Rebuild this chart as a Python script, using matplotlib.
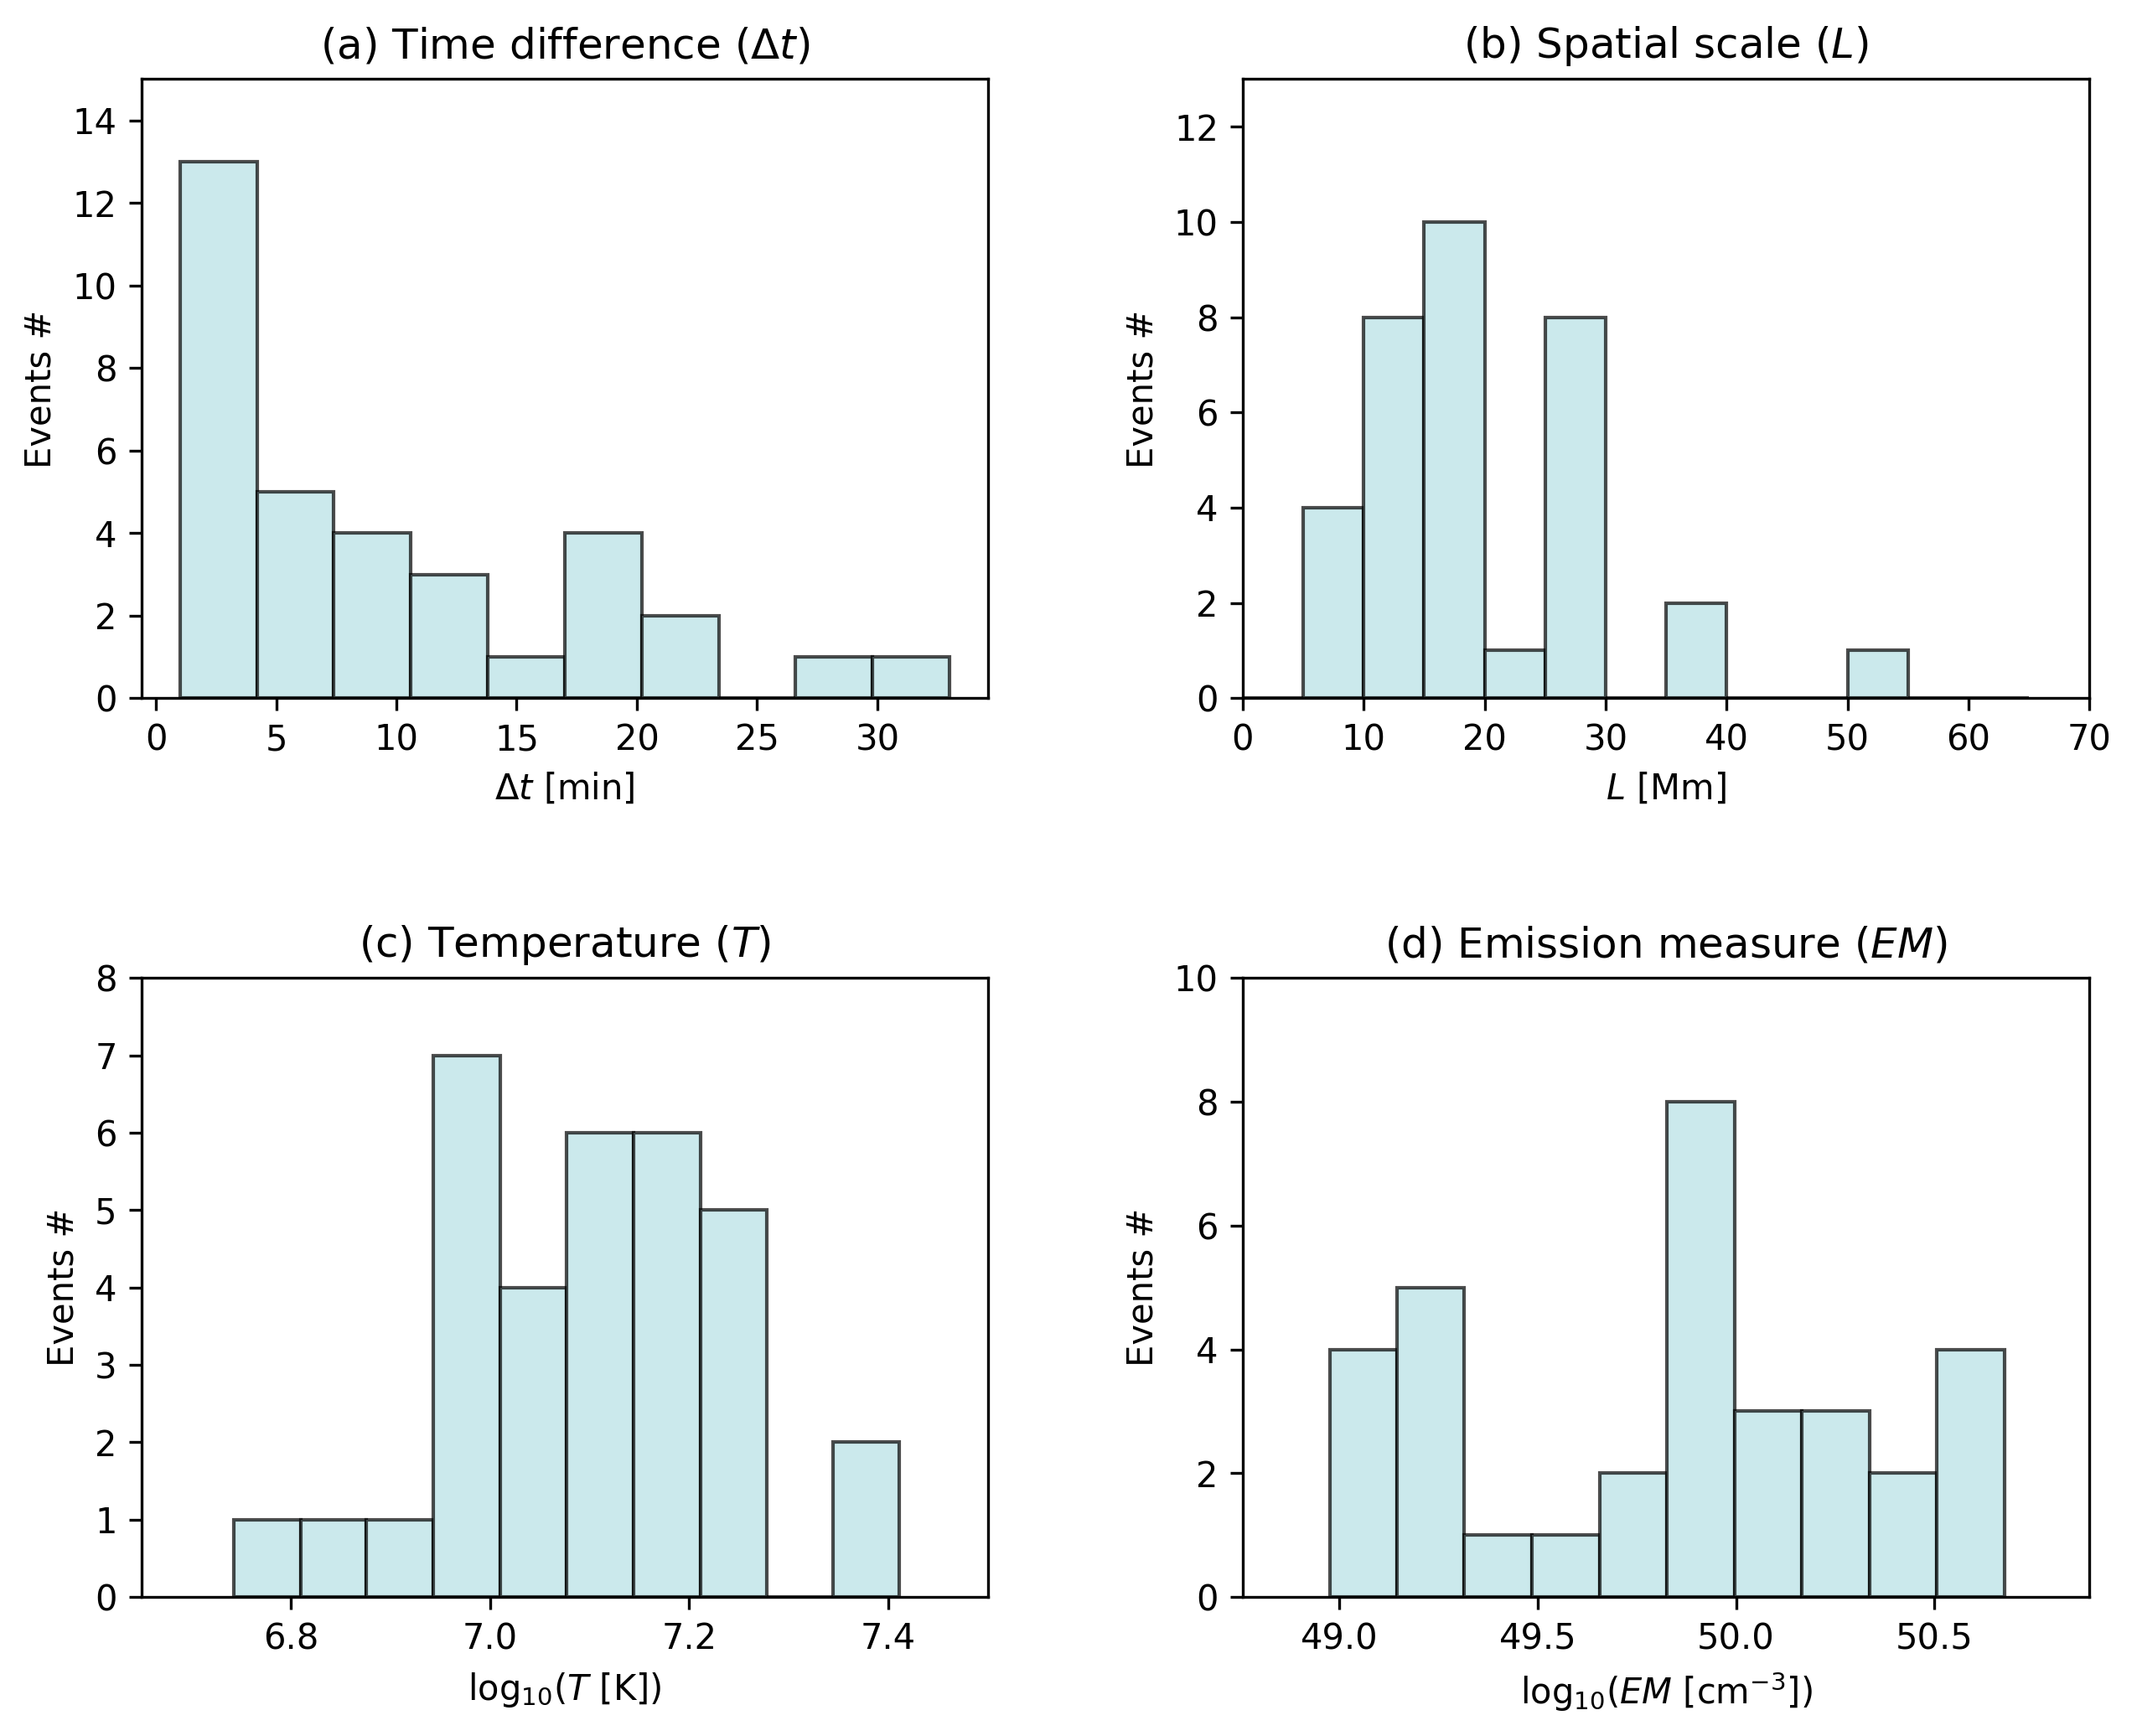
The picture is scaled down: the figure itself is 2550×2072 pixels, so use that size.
import matplotlib
matplotlib.use("Agg")
import matplotlib.pyplot as plt
import numpy as np

# ---- data (bin edges and counts) ----
dt_edges = [1.0, 4.2, 7.4, 10.6, 13.8, 17.0, 20.2, 23.4, 26.6, 29.8, 33.0]
dt_counts = [13, 5, 4, 3, 1, 4, 2, 0, 1, 1]

L_edges = [0, 5, 10, 15, 20, 25, 30, 35, 40, 45, 50, 55, 60, 65]
L_counts = [0, 4, 8, 10, 1, 8, 0, 2, 0, 0, 1, 0, 0]

T_edges = [6.743, 6.810, 6.876, 6.943, 7.010, 7.077, 7.144, 7.211, 7.278, 7.344, 7.411]
T_counts = [1, 1, 1, 7, 4, 6, 6, 5, 0, 2]

EM_edges = [48.975, 49.145, 49.315, 49.486, 49.656, 49.826, 49.996, 50.166, 50.337, 50.507, 50.677]
EM_counts = [4, 5, 1, 1, 2, 8, 3, 3, 2, 4]

titles = [r"(a) Time difference ($\Delta t$)",
          r"(b) Spatial scale ($L$)",
          r"(c) Temperature ($T$)",
          r"(d) Emission measure ($EM$)"]
xlabels = [r"$\Delta t$ [min]",
           r"$L$ [Mm]",
           r"log$_{10}$($T$ [K])",
           r"log$_{10}$($EM$ [cm$^{-3}$])"]
ylabel = "Events #"

fig, axes = plt.subplots(2, 2, figsize=(8.5, 2072 / 300), dpi=300)
fig.subplots_adjust(left=0.0662, right=0.9777, top=0.9544, bottom=0.0801,
                    wspace=0.301, hspace=0.452)

datasets = [(dt_edges, dt_counts), (L_edges, L_counts),
            (T_edges, T_counts), (EM_edges, EM_counts)]

face = "#CBE9EC"
edge = (0, 0, 0, 0.7)

for ax, (edges, counts), title, xl in zip(axes.flat, datasets, titles, xlabels):
    e = np.asarray(edges, dtype=float)
    centers = 0.5 * (e[:-1] + e[1:])
    ax.hist(centers, bins=e, weights=counts, facecolor=face,
            edgecolor=edge, linewidth=1.0)
    ax.set_title(title, fontsize=12)
    ax.set_xlabel(xl, fontsize=10)
    ax.set_ylabel(ylabel, fontsize=10)

ax_a, ax_b, ax_c, ax_d = axes.flat
ax_a.set_ylim(0, 15)
ax_a.set_yticks([0, 2, 4, 6, 8, 10, 12, 14])
ax_a.set_xticks([0, 5, 10, 15, 20, 25, 30])

ax_b.set_xlim(0, 70)
ax_b.set_ylim(0, 13)
ax_b.set_yticks([0, 2, 4, 6, 8, 10, 12])

ax_c.set_xlim(6.65, 7.5)
ax_c.set_ylim(0, 8)
ax_c.set_xticks([6.8, 7.0, 7.2, 7.4])

ax_d.set_xlim(48.756, 50.891)
ax_d.set_ylim(0, 10)
ax_d.set_xticks([49.0, 49.5, 50.0, 50.5])

fig.savefig("out.png", dpi=300)
